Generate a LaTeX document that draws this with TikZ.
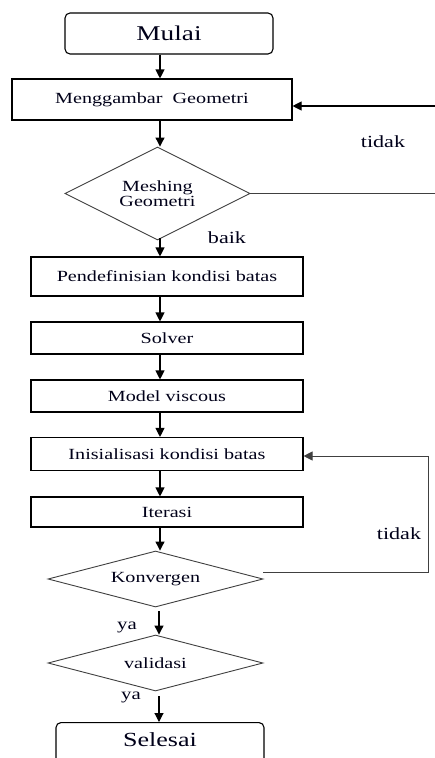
\documentclass[tikz,border=0pt]{standalone}
\usepackage{fontspec}
\setmainfont[FakeStretch=1.3]{Liberation Serif}
\usetikzlibrary{arrows.meta,shapes.geometric}
\begin{document}
\begin{tikzpicture}[x=1pt,y=1pt,
 box/.style={draw=black, line width=1.1pt, rectangle, inner sep=0pt, text=black!90!blue, font=\fontsize{15.5}{14}\selectfont},
 rbox/.style={box, rounded corners=5pt, font=\fontsize{21}{24}\selectfont},
 dia/.style={draw=black!75, line width=0.9pt, diamond, aspect=3, inner sep=0pt, text=black!90!blue, font=\fontsize{15.5}{13.5}\selectfont, align=center},
 arr/.style={line width=1.1pt, -{Triangle[length=9pt,width=9pt]}},
 fb/.style={draw=black!75, line width=0.9pt},
 lab/.style={font=\fontsize{17}{20}\selectfont, inner sep=0pt, anchor=base, text=black!90!blue}]
\useasboundingbox (0,0) rectangle (435,-758);
\fill[white] (0,0) rectangle (435,-758);
\node[rbox, minimum width=208, minimum height=41] (mulai) at (169,-33.5) {Mulai};
\node[box, minimum width=280, minimum height=41] (meng) at (152,-99.5) {Menggambar\ \ Geometri};
\node[dia, minimum width=185, minimum height=93] (mesh) at (157.5,-193.5) {Meshing\\Geometri};
\node[box, minimum width=272, minimum height=39] (pend) at (167,-276.5) {Pendefinisian kondisi batas};
\node[box, minimum width=272, minimum height=32] (solver) at (167,-338) {Solver};
\node[box, minimum width=272, minimum height=32] (model) at (167,-396) {Model viscous};
\node[box, minimum width=272, minimum height=33] (inis) at (167,-454) {Inisialisasi kondisi batas};
\node[box, minimum width=272, minimum height=30] (iter) at (167,-512) {Iterasi};
\node[dia, minimum width=215, minimum height=56] (kon) at (155.5,-579) {Konvergen};
\node[dia, minimum width=215, minimum height=56] (val) at (155.5,-663) {validasi};
\node[box, rounded corners=5pt, anchor=north, minimum width=208, text height=20pt, text depth=40pt, inner ysep=4pt, font=\fontsize{20}{24}\selectfont] (sel) at (160,-722) {Selesai};
% labels
\node[lab] (t1) at (383,-147) {tidak};
\node[lab] (baik) at (227,-243) {baik};
\node[lab] (t2) at (399,-539) {tidak};
\node[lab, font=\fontsize{16}{18}\selectfont] (ya1) at (127,-629) {ya};
\node[lab, font=\fontsize{16}{18}\selectfont] (ya2) at (131,-699) {ya};
% main arrows
\coordinate (ax) at (160,0);
\draw[arr] (mulai.south -| ax) -- (meng.north -| ax);
\draw[arr] (meng.south -| ax) -- (mesh.north -| ax);
\draw[arr] ([yshift=2]mesh.south -| ax) -- (pend.north -| ax);
\draw[arr] (pend.south -| ax) -- (solver.north -| ax);
\draw[arr] (solver.south -| ax) -- (model.north -| ax);
\draw[arr] (model.south -| ax) -- (inis.north -| ax);
\draw[arr] (inis.south -| ax) -- (iter.north -| ax);
\draw[arr] (iter.south -| ax) -- (kon.north -| ax);
\coordinate (bx) at (159,0);
\draw[arr] ([yshift=-4]kon.south -| bx) -- (val.north -| bx);
\draw[arr] ([yshift=-5]val.south -| bx) -- (sel.north -| bx);
% feedback loops
\coordinate (r1) at (435,-106);
\draw[arr] (r1) -- (r1 -| meng.east);
\draw[fb] (mesh.east) -- (mesh.east -| r1);
\coordinate (rr) at (428,-572);
\draw[fb, -{Triangle[length=9pt,width=9pt]}] ([yshift=7]kon.east) -- (rr) |- ([yshift=-2]inis.east);
\end{tikzpicture}
\end{document}
